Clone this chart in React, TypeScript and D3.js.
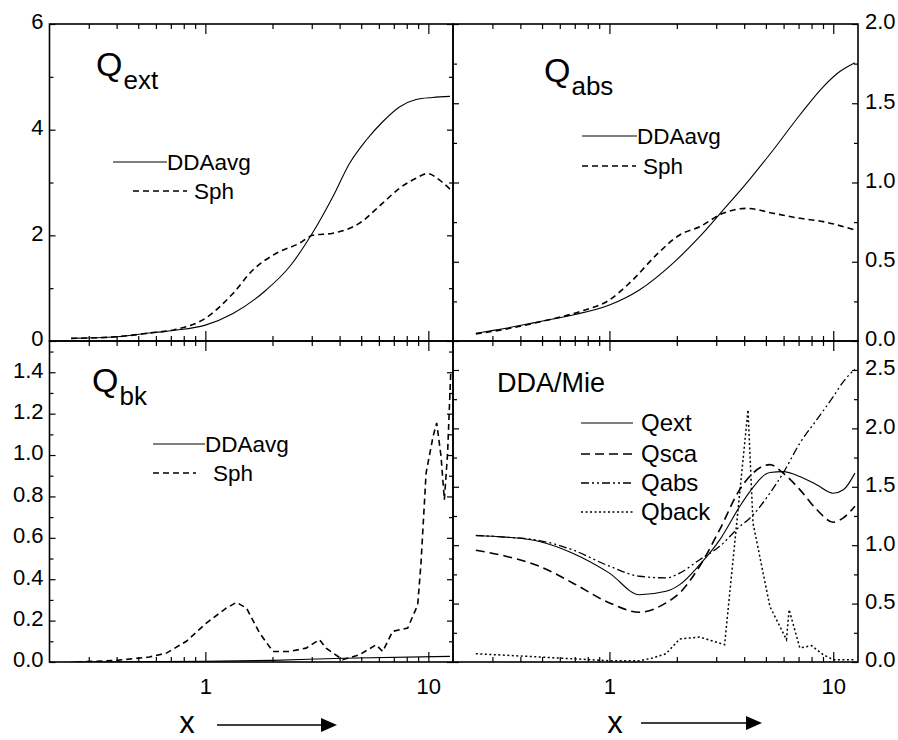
import React, { useEffect, useRef } from 'react';
import * as d3 from 'd3';

// ---- data (x = size parameter, log axis) ----
const qextDdaX = [0.25, 0.4, 0.56, 0.72, 1.0, 1.33, 1.88, 2.39, 2.98, 3.73, 4.43, 5.26, 6.24, 7.42, 8.81, 10.45, 12.5];
const qextDdaY = [0.05, 0.08, 0.15, 0.2, 0.3, 0.52, 0.97, 1.41, 2.0, 2.73, 3.36, 3.8, 4.15, 4.43, 4.57, 4.61, 4.63];
const qextSphX = [0.25, 0.4, 0.56, 0.72, 1.0, 1.33, 1.63, 2.08, 2.64, 3.03, 3.73, 4.91, 6.24, 7.42, 8.81, 9.93, 11.2, 12.6];
const qextSphY = [0.05, 0.08, 0.15, 0.21, 0.43, 0.9, 1.34, 1.66, 1.85, 2.0, 2.04, 2.23, 2.61, 2.89, 3.08, 3.17, 3.05, 2.86];

const qabsDdaX = [0.253, 0.344, 0.486, 0.685, 1.0, 1.36, 1.92, 2.53, 3.22, 4.09, 5.39, 7.09, 9.02, 10.7, 12.5];
const qabsDdaY = [0.049, 0.08, 0.122, 0.164, 0.227, 0.322, 0.49, 0.658, 0.826, 0.995, 1.205, 1.426, 1.604, 1.7, 1.756];
const qabsSphX = [0.253, 0.344, 0.486, 0.734, 1.0, 1.27, 1.62, 2.06, 2.53, 3.22, 4.09, 5.39, 7.09, 9.02, 12.5];
const qabsSphY = [0.045, 0.075, 0.12, 0.185, 0.259, 0.385, 0.543, 0.669, 0.721, 0.806, 0.837, 0.806, 0.774, 0.753, 0.7];

const qbkDdaX = [0.25, 1.0, 2.01, 4.13, 12.5];
const qbkDdaY = [0.0, 0.003, 0.008, 0.018, 0.027];
const qbkSphX = [0.264, 0.4, 0.56, 0.669, 0.822, 1.01, 1.24, 1.38, 1.53, 1.75, 2.01, 2.39, 2.83, 3.25, 3.48, 4.13, 4.91, 5.83, 6.24, 6.92, 8.08, 8.96, 9.27, 9.77, 10.5, 10.9, 11.4, 11.8, 12.2, 12.6];
const qbkSphY = [0.0, 0.008, 0.024, 0.043, 0.1, 0.188, 0.26, 0.288, 0.26, 0.14, 0.051, 0.051, 0.067, 0.108, 0.067, 0.011, 0.035, 0.083, 0.051, 0.148, 0.164, 0.276, 0.478, 0.913, 1.09, 1.155, 0.994, 0.784, 1.01, 1.395];

const mieX = [0.253, 0.344, 0.486, 0.685, 1.0, 1.36, 1.79, 2.06, 2.53, 3.11, 3.82, 4.24, 5.21, 5.97, 7.09, 8.43, 10.0, 11.1, 12.5];
const ratioExt = [1.083, 1.069, 1.032, 0.932, 0.761, 0.576, 0.605, 0.662, 0.833, 1.046, 1.331, 1.459, 1.622, 1.63, 1.588, 1.517, 1.445, 1.474, 1.617];
const ratioSca = [0.957, 0.906, 0.82, 0.677, 0.506, 0.426, 0.506, 0.591, 0.82, 1.134, 1.476, 1.59, 1.69, 1.617, 1.476, 1.305, 1.197, 1.234, 1.334];
const ratioAbs = [1.083, 1.069, 1.04, 0.96, 0.82, 0.734, 0.72, 0.761, 0.876, 0.99, 1.16, 1.231, 1.445, 1.617, 1.873, 2.073, 2.272, 2.401, 2.507];
const backX = [0.253, 0.486, 1.0, 1.36, 1.56, 1.79, 2.06, 2.53, 3.27, 4.16, 4.38, 5.21, 6.18, 6.35, 7.09, 8.0, 9.02, 10.0, 12.5];
const ratioBack = [0.071, 0.043, 0.011, 0.011, 0.034, 0.071, 0.197, 0.214, 0.148, 2.158, 1.189, 0.476, 0.191, 0.448, 0.12, 0.14, 0.063, 0.02, 0.02];

// ticks
const xMajor = [1, 10];
const xMinor = [0.3, 0.4, 0.5, 0.6, 0.7, 0.8, 0.9, 2, 3, 4, 5, 6, 7, 8, 9];
const extTicks = [0, 2, 4, 6];
const extMinor = [1, 3, 5];
const absTicks = [0, 0.5, 1.0, 1.5, 2.0];
const absMinor = [0.25, 0.75, 1.25, 1.75];
const bkTicks = [0, 0.2, 0.4, 0.6, 0.8, 1.0, 1.2, 1.4];
const bkMinor = [0.1, 0.3, 0.5, 0.7, 0.9, 1.1, 1.3, 1.5];
const mieTicks = [0, 0.5, 1.0, 1.5, 2.0, 2.5];
const mieMinor = [0.25, 0.75, 1.25, 1.75, 2.25, 2.75];

const FONT = "'Liberation Sans', Arial, Helvetica, sans-serif";
const DASH: Record<string, string | null> = {
  solid: null,
  sph: '6,4',
  sca: '9,5',
  abs: '8,3,2,3,2,3',
  back: '2,2.5',
};

const L = 49.5, M = 453, R = 858, T = 24, H = 341, B = 662;

const zip = (xs: number[], ys: number[]) => xs.map((v, i) => [v, ys[i]] as [number, number]);

function App() {
  const ref = useRef<SVGSVGElement>(null);

  useEffect(() => {
    const svg = d3.select(ref.current);
    svg.selectAll('*').remove();

    const panels = [
      {
        x0: L, x1: M, y0: T, y1: H, yMax: 6, side: 'left', ticks: extTicks, minor: extMinor,
        fmt: d3.format('d'), xLabels: false,
        series: [
          { data: zip(qextDdaX, qextDdaY), dash: 'solid', w: 1.1, curve: d3.curveMonotoneX },
          { data: zip(qextSphX, qextSphY), dash: 'sph', w: 1.6, curve: d3.curveMonotoneX },
        ],
        title: { x: 96, y: 76, main: 'Q', sub: 'ext' },
        legend: [
          { x1: 113, x2: 167, y: 162, tx: 167, label: 'DDAavg', dash: 'solid', w: 1.1 },
          { x1: 133, x2: 187, y: 191, tx: 194, label: 'Sph', dash: 'sph', w: 1.6 },
        ],
        legendSize: 22.5,
      },
      {
        x0: M, x1: R, y0: T, y1: H, yMax: 2, side: 'right', ticks: absTicks, minor: absMinor,
        fmt: d3.format('.1f'), xLabels: false,
        series: [
          { data: zip(qabsDdaX, qabsDdaY), dash: 'solid', w: 1.1, curve: d3.curveMonotoneX },
          { data: zip(qabsSphX, qabsSphY), dash: 'sph', w: 1.6, curve: d3.curveMonotoneX },
        ],
        title: { x: 544, y: 82, main: 'Q', sub: 'abs' },
        legend: [
          { x1: 582, x2: 637, y: 136, tx: 637, label: 'DDAavg', dash: 'solid', w: 1.1 },
          { x1: 582, x2: 636, y: 166, tx: 643, label: 'Sph', dash: 'sph', w: 1.6 },
        ],
        legendSize: 22.5,
      },
      {
        x0: L, x1: M, y0: H, y1: B, yMax: 1.551, side: 'left', ticks: bkTicks, minor: bkMinor,
        fmt: d3.format('.1f'), xLabels: true,
        series: [
          { data: zip(qbkDdaX, qbkDdaY), dash: 'solid', w: 1.1, curve: d3.curveMonotoneX },
          { data: zip(qbkSphX, qbkSphY), dash: 'sph', w: 1.6, curve: d3.curveLinear },
        ],
        title: { x: 92, y: 392, main: 'Q', sub: 'bk' },
        legend: [
          { x1: 153, x2: 205, y: 444, tx: 205, label: 'DDAavg', dash: 'solid', w: 1.1 },
          { x1: 153, x2: 196, y: 473, tx: 213, label: 'Sph', dash: 'sph', w: 1.6 },
        ],
        legendSize: 22.5,
      },
      {
        x0: M, x1: R, y0: H, y1: B, yMax: 2.748, side: 'right', ticks: mieTicks, minor: mieMinor,
        fmt: d3.format('.1f'), xLabels: true,
        series: [
          { data: zip(mieX, ratioExt), dash: 'solid', w: 1.1, curve: d3.curveMonotoneX },
          { data: zip(mieX, ratioSca), dash: 'sca', w: 1.6, curve: d3.curveMonotoneX },
          { data: zip(mieX, ratioAbs), dash: 'abs', w: 1.3, curve: d3.curveMonotoneX },
          { data: zip(backX, ratioBack), dash: 'back', w: 1.5, curve: d3.curveLinear },
        ],
        title: null,
        legend: [
          { x1: 581, x2: 633, y: 423, tx: 641, label: 'Qext', dash: 'solid', w: 1.1 },
          { x1: 581, x2: 633, y: 454, tx: 641, label: 'Qsca', dash: 'sca', w: 1.6 },
          { x1: 581, x2: 633, y: 483, tx: 641, label: 'Qabs', dash: 'abs', w: 1.3 },
          { x1: 581, x2: 633, y: 512, tx: 641, label: 'Qback', dash: 'back', w: 1.5 },
        ],
        legendSize: 24,
      },
    ];

    panels.forEach(p => {
      const x = d3.scaleLog().domain([0.2, 12.9]).range([p.x0, p.x1]);
      const y = d3.scaleLinear().domain([0, p.yMax]).range([p.y1, p.y0]);
      const g = svg.append('g');

      // curves (clipped to the panel)
      const clipId = `clip-${p.x0}-${p.y0}`.replace(/\./g, '_');
      svg.append('clipPath').attr('id', clipId)
        .append('rect').attr('x', p.x0).attr('y', p.y0 - 2)
        .attr('width', p.x1 - p.x0).attr('height', p.y1 - p.y0 + 2);

      p.series.forEach(s => {
        const line = d3.line<[number, number]>()
          .x(d => x(d[0]))
          .y(d => y(d[1]))
          .curve(s.curve);
        g.append('path')
          .attr('d', line(s.data))
          .attr('clip-path', `url(#${clipId})`)
          .attr('fill', 'none')
          .attr('stroke', '#000')
          .attr('stroke-width', s.w)
          .attr('stroke-dasharray', DASH[s.dash]);
      });

      // inward ticks on all four sides
      const addX = (vals: number[], size: number, labels: boolean) => {
        g.append('g').attr('transform', `translate(0,${p.y1})`)
          .call(d3.axisBottom(x).tickValues(vals).tickSize(-size).tickPadding(16)
            .tickFormat(labels ? (d => d3.format('d')(d as number)) : () => ''));
        g.append('g').attr('transform', `translate(0,${p.y0})`)
          .call(d3.axisTop(x).tickValues(vals).tickSize(-size).tickFormat(() => ''));
      };
      addX(xMajor, 10, p.xLabels);
      addX(xMinor, 5, false);

      const addY = (vals: number[], size: number, labels: boolean) => {
        const left = d3.axisLeft(y).tickValues(vals).tickSize(-size).tickPadding(6)
          .tickFormat(labels && p.side === 'left' ? (d => p.fmt(d as number)) : () => '');
        const right = d3.axisRight(y).tickValues(vals).tickSize(-size).tickPadding(7)
          .tickFormat(labels && p.side === 'right' ? (d => p.fmt(d as number)) : () => '');
        g.append('g').attr('class', 'yax').attr('transform', `translate(${p.x0},0)`).call(left);
        g.append('g').attr('class', 'yax').attr('transform', `translate(${p.x1},0)`).call(right);
      };
      addY(p.ticks, 6, true);
      addY(p.minor, 4, false);

      g.selectAll('.domain').remove();
      g.selectAll('.tick line').attr('stroke', '#000').attr('stroke-width', 1.2);
      g.selectAll('.tick text')
        .attr('fill', '#000')
        .style('font-family', FONT)
        .style('font-size', '22px');
      g.selectAll('.yax .tick text').attr('dy', '0.22em');

      // frame
      g.append('rect')
        .attr('x', p.x0).attr('y', p.y0)
        .attr('width', p.x1 - p.x0).attr('height', p.y1 - p.y0)
        .attr('fill', 'none').attr('stroke', '#000').attr('stroke-width', 1.6);

      // panel title
      if (p.title) {
        const t = g.append('text')
          .attr('x', p.title.x).attr('y', p.title.y)
          .style('font-family', FONT).style('font-size', '34px');
        t.append('tspan').text(p.title.main);
        t.append('tspan').attr('dy', 13).attr('dx', 1).style('font-size', '26px').text(p.title.sub);
      } else {
        g.append('text')
          .attr('x', 497).attr('y', 392)
          .style('font-family', FONT).style('font-size', '27px')
          .text('DDA/Mie');
      }

      // legend
      p.legend.forEach(e => {
        g.append('line')
          .attr('x1', e.x1).attr('x2', e.x2).attr('y1', e.y).attr('y2', e.y)
          .attr('stroke', '#000').attr('stroke-width', e.w)
          .attr('stroke-dasharray', DASH[e.dash]);
        g.append('text')
          .attr('x', e.tx).attr('y', e.y + 8)
          .style('font-family', FONT).style('font-size', `${p.legendSize}px`)
          .text(e.label);
      });
    });

    // x labels with arrows under bottom panels
    [{ cx: 187, ax1: 217, ax2: 337, ay: 725 }, { cx: 615, ax1: 641, ax2: 762, ay: 723 }].forEach(a => {
      svg.append('text')
        .attr('x', a.cx).attr('y', 733)
        .attr('text-anchor', 'middle')
        .style('font-family', FONT).style('font-size', '31px')
        .text('x');
      svg.append('line')
        .attr('x1', a.ax1).attr('x2', a.ax2 - 14).attr('y1', a.ay).attr('y2', a.ay)
        .attr('stroke', '#000').attr('stroke-width', 1.3);
      svg.append('path')
        .attr('d', `M${a.ax2 - 16},${a.ay - 7}L${a.ax2},${a.ay}L${a.ax2 - 16},${a.ay + 7}Z`)
        .attr('fill', '#000');
    });
  }, []);

  return (
    <svg
      ref={ref}
      width={898}
      height={740}
      style={{ position: 'absolute', left: 0, top: 0, background: '#fff' }}
    />
  );
}

export default App;
